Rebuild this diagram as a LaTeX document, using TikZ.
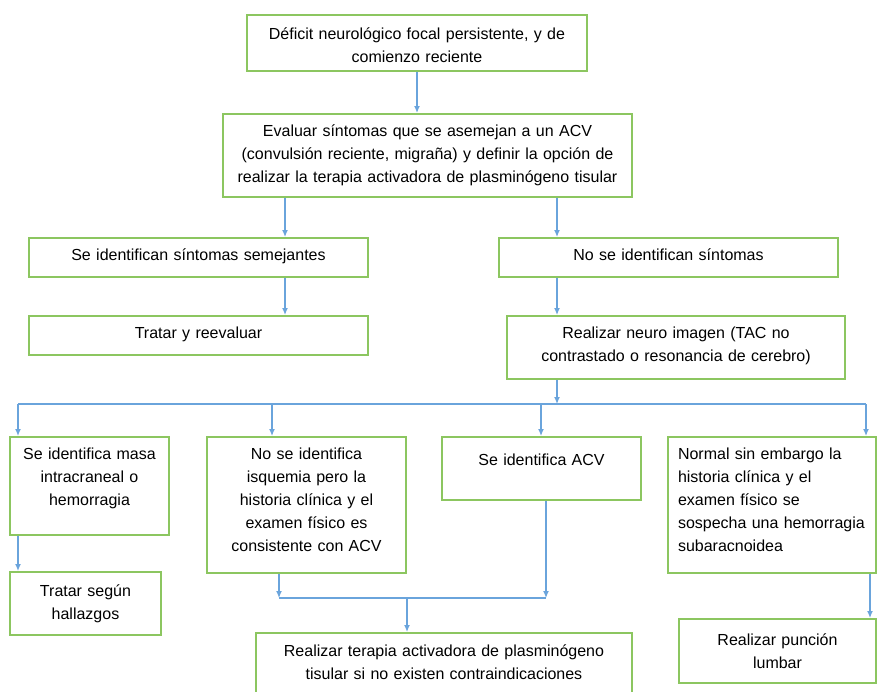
\documentclass[tikz,border=0pt]{standalone}
\usepackage{fontspec}
\setmainfont{Liberation Sans}
\usepackage{tikz}
\usetikzlibrary{arrows.meta}

\definecolor{boxgreen}{RGB}{140,198,96}
\definecolor{arrowblue}{RGB}{106,164,220}

\tikzset{
	box/.style={draw=boxgreen,line width=1.6pt,anchor=north,align=center,inner xsep=6pt,inner ysep=0pt,
		text height=23pt,font=\fontsize{16}{23}\selectfont},
	arr/.style={draw=arrowblue,line width=1.3pt,-{Latex[length=7pt,width=6pt]}},
	bline/.style={draw=arrowblue,line width=1.3pt}
}

\begin{document}
\begin{tikzpicture}[x=1pt,y=-1pt]
	\useasboundingbox[fill=white] (0,0) rectangle (877,691);
	\clip (0,0) rectangle (877,691);

	\node[box,text width=328pt,text height=25pt,text depth=31pt] (dfc) at (417,14) {D\'eficit neurol\'ogico focal persistente, y de\\ comienzo reciente};
	\node[box,text width=397pt,text depth=60pt] (eval) at (427.5,113) {Evaluar s\'intomas que se asemejan a un ACV\\ (convulsi\'on reciente, migra\~na) y definir la opci\'on de\\ realizar la terapia activadora de plasmin\'ogeno tisular};

	\node[box,text width=327pt,text depth=16pt] (sem) at (198.5,237) {Se identifican s\'intomas semejantes};
	\node[box,text width=327pt,text depth=16pt] (nosem) at (668.5,237) {No se identifican s\'intomas};
	\node[box,text width=327pt,text depth=16pt] (trat) at (198.5,315) {Tratar y reevaluar};
	\node[box,text width=326pt,text depth=40pt] (neuro) at (676,315) {Realizar neuro imagen (TAC no\\ contrastado o resonancia de cerebro)};

	\node[box,text width=147pt,text depth=75pt] (masa) at (89.5,436) {Se identifica masa\\ intracraneal o\\ hemorragia};
	\node[box,text width=187pt,text depth=113pt] (noisq) at (306.5,436) {No se identifica\\ isquemia pero la\\ historia cl\'inica y el\\ examen f\'isico es\\ consistente con ACV};
	\node[box,text width=187pt,text height=29pt,text depth=34pt] (acv) at (541.5,436) {Se identifica ACV};
	\node[box,align=left,inner xsep=10pt,text width=188pt,text depth=113pt] (normal) at (772,436) {Normal sin embargo la\\ historia cl\'inica y el\\ examen f\'isico se\\ sospecha una hemorragia\\ subaracnoidea};

	\node[box,text width=139pt,text height=25pt,text depth=38pt] (hall) at (85.5,571) {Tratar seg\'un\\ hallazgos};
	\node[box,text width=364pt,text height=24pt,text depth=50pt] (terapia) at (444,632) {Realizar terapia activadora de plasmin\'ogeno\\ tisular si no existen contraindicaciones};
	\node[box,text width=185pt,text height=27pt,text depth=37pt] (puncion) at (777.5,618) {Realizar punci\'on\\ lumbar};

	% columns of the connectors
	\coordinate (lcol) at (285,0);
	\coordinate (rcol) at (557,0);
	\coordinate (bus) at (0,404);
	\coordinate (c1) at (18,0);
	\coordinate (c2) at (272,0);
	\coordinate (c3) at (541,0);
	\coordinate (c4) at (866,0);
	\coordinate (bcol) at (279,0);
	\coordinate (acol) at (546,0);
	\coordinate (join) at (407,598);
	\coordinate (ncol) at (870,0);

	\draw[arr] (dfc.south) -- (dfc.south |- eval.north);
	\draw[arr] (eval.south -| lcol) -- (sem.north -| lcol);
	\draw[arr] (eval.south -| rcol) -- (nosem.north -| rcol);
	\draw[arr] (sem.south -| lcol) -- (trat.north -| lcol);
	\draw[arr] (nosem.south -| rcol) -- (neuro.north -| rcol);

	\draw[arr] (neuro.south -| rcol) -- (bus -| rcol);
	\draw[bline] (bus -| c1) -- (bus -| c4);
	\foreach \col/\dest in {c1/masa,c2/noisq,c3/acv,c4/normal}
		\draw[arr] (bus -| \col) -- (\dest.north -| \col);

	\draw[arr] (masa.south -| c1) -- (hall.north -| c1);
	\draw[arr] (noisq.south -| bcol) -- (join -| bcol);
	\draw[arr] (acv.south -| acol) -- (join -| acol);
	\draw[bline] (join -| bcol) -- (join -| acol);
	\draw[arr] (join) -- (terapia.north -| join);
	\draw[arr] (normal.south -| ncol) -- (puncion.north -| ncol);
\end{tikzpicture}
\end{document}
